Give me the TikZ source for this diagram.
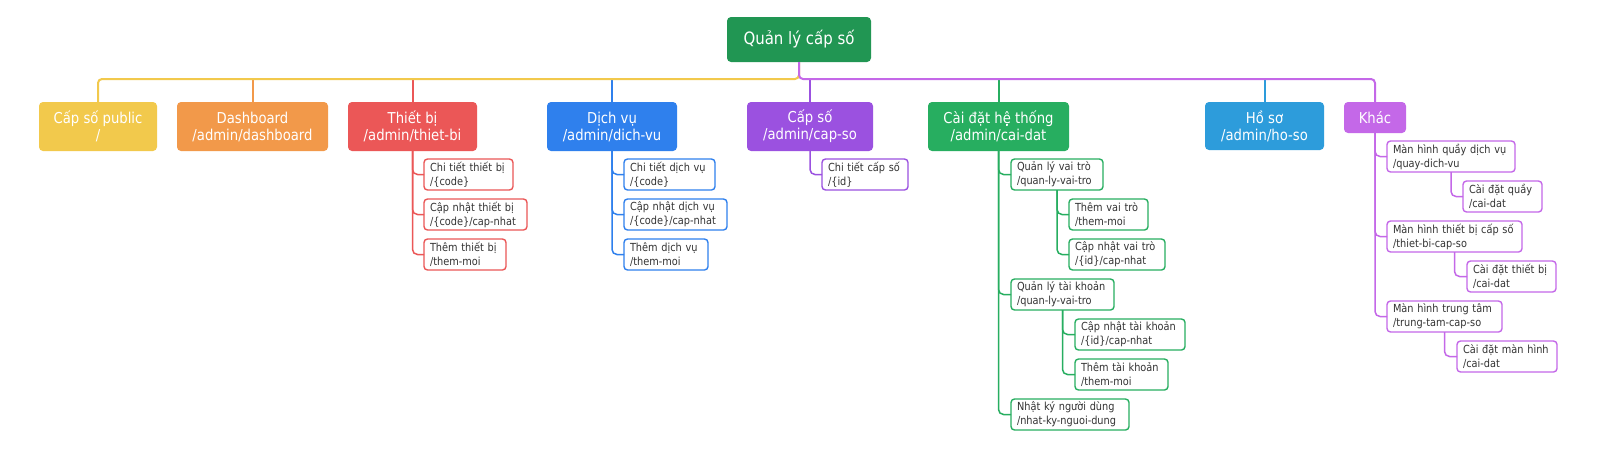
\documentclass[tikz,border=0pt]{standalone}
\usepackage{fontspec}
\newfontfamily\tah[FakeStretch=0.88]{DejaVu Sans}
\definecolor{rootc}{HTML}{219653}
\definecolor{pubc}{HTML}{F2C94C}
\definecolor{dashc}{HTML}{F2994A}
\definecolor{tbc}{HTML}{EB5757}
\definecolor{dvc}{HTML}{2F80ED}
\definecolor{csc}{HTML}{9B51E0}
\definecolor{cdc}{HTML}{27AE60}
\definecolor{hsc}{HTML}{2D9CDB}
\definecolor{khacc}{HTML}{C468E8}
\definecolor{txtc}{HTML}{333333}
\tikzset{
  rootbox/.style={fill=rootc, rounded corners=4pt, text=white, font=\tah\fontsize{17}{20}\selectfont,
    minimum width=144pt, minimum height=45pt, inner sep=0pt, outer sep=0pt},
  mainbox/.style={fill=#1, rounded corners=4pt, text=white, font=\tah\fontsize{15}{17}\selectfont,
    align=center, minimum height=49pt, inner sep=0pt, outer sep=0pt},
  childbox/.style n args={2}{draw=#1, line width=1.4pt, fill=white, rounded corners=3.5pt, text=txtc,
    font=\tah\fontsize{11.1}{14}\selectfont, align=left, text width=#2pt, minimum height=31pt,
    inner xsep=6pt, inner ysep=0pt, outer sep=0pt, anchor=west},
  toplink/.style={draw=#1, line width=2pt, rounded corners=4pt},
  link/.style={draw=#1, line width=1.5pt, rounded corners=5pt},
}
\begin{document}
\begin{tikzpicture}[x=1pt,y=-1pt]
\useasboundingbox[fill=white] (0,0) rectangle (1598,469);
\coordinate (hl) at (0,79);

% root and main branches
\node[rootbox] (root) at (799,39.5) {Quản lý cấp số};
\node[mainbox=pubc, minimum width=118pt] (pub) at (98,126.5) {Cấp số public\\/};
\node[mainbox=dashc, minimum width=151pt] (dash) at (252.5,126.5) {Dashboard\\/admin/dashboard};
\node[mainbox=tbc, minimum width=129pt] (tb) at (412.5,126.5) {Thiết bị\\/admin/thiet-bi};
\node[mainbox=dvc, minimum width=130pt] (dv) at (612,126.5) {Dịch vụ\\/admin/dich-vu};
\node[mainbox=csc, minimum width=126pt] (cs) at (810,126.5) {Cấp số\\/admin/cap-so};
\node[mainbox=cdc, minimum width=141pt] (cd) at (998.5,126.5) {Cài đặt hệ thống\\/admin/cai-dat};
\node[mainbox=hsc, minimum width=119pt, minimum height=48pt] (hs) at (1264.5,126) {Hồ sơ\\/admin/ho-so};
\node[mainbox=khacc, minimum width=62pt, minimum height=31pt] (khac) at (1375,117.5) {Khác};

% top connectors
\foreach \b/\c in {dash/dashc, tb/tbc, dv/dvc, cs/csc, cd/cdc, hs/hsc}
  \draw[toplink=\c] (\b.north |- hl) -- (\b.north);
\draw[toplink=pubc] (root.south) -- (root.south |- hl) -- (pub.north |- hl) -- (pub.north);
\draw[toplink=khacc] (root.south) -- (root.south |- hl) -- (khac.north |- hl) -- (khac.north);

% Thiet bi
\node[childbox={tbc}{77}] (tb1) at (424,174.5) {Chi tiết thiết bị\\/\{code\}};
\node[childbox={tbc}{91}] (tb2) at (424,214.5) {Cập nhật thiết bị\\/\{code\}/cap-nhat};
\node[childbox={tbc}{70}] (tb3) at (424,254.5) {Thêm thiết bị\\/them-moi};
% Dich vu
\node[childbox={dvc}{79}] (dv1) at (624,174.5) {Chi tiết dịch vụ\\/\{code\}};
\node[childbox={dvc}{91}] (dv2) at (624,214.5) {Cập nhật dịch vụ\\/\{code\}/cap-nhat};
\node[childbox={dvc}{72}] (dv3) at (624,254.5) {Thêm dịch vụ\\/them-moi};
% Cap so
\node[childbox={csc}{74}] (cs1) at (822,174.5) {Chi tiết cấp số\\/\{id\}};
% Cai dat
\node[childbox={cdc}{80}] (cd1) at (1011,174.5) {Quản lý vai trò\\/quan-ly-vai-tro};
\node[childbox={cdc}{67}] (cd11) at (1069,214.5) {Thêm vai trò\\/them-moi};
\node[childbox={cdc}{84}] (cd12) at (1069,254.5) {Cập nhật vai trò\\/\{id\}/cap-nhat};
\node[childbox={cdc}{91}] (cd2) at (1011,294.5) {Quản lý tài khoản\\/quan-ly-vai-tro};
\node[childbox={cdc}{98}] (cd21) at (1075,334.5) {Cập nhật tài khoản\\/\{id\}/cap-nhat};
\node[childbox={cdc}{81}] (cd22) at (1075,374.5) {Thêm tài khoản\\/them-moi};
\node[childbox={cdc}{106}] (cd3) at (1011,414.5) {Nhật ký người dùng\\/nhat-ky-nguoi-dung};
% Khac
\node[childbox={khacc}{116}] (k1) at (1387,156.5) {Màn hình quầy dịch vụ\\/quay-dich-vu};
\node[childbox={khacc}{67}] (k11) at (1463,196.5) {Cài đặt quầy\\/cai-dat};
\node[childbox={khacc}{123}] (k2) at (1387,236.5) {Màn hình thiết bị cấp số\\/thiet-bi-cap-so};
\node[childbox={khacc}{77}] (k21) at (1467,276.5) {Cài đặt thiết bị\\/cai-dat};
\node[childbox={khacc}{103}] (k3) at (1387,316.5) {Màn hình trung tâm\\/trung-tam-cap-so};
\node[childbox={khacc}{88}] (k31) at (1457,356.5) {Cài đặt màn hình\\/cai-dat};

% child connectors
\foreach \p/\k/\c in {tb/tb1/tbc, tb/tb2/tbc, tb/tb3/tbc,
    dv/dv1/dvc, dv/dv2/dvc, dv/dv3/dvc, cs/cs1/csc,
    cd/cd1/cdc, cd/cd2/cdc, cd/cd3/cdc, cd1/cd11/cdc, cd1/cd12/cdc, cd2/cd21/cdc, cd2/cd22/cdc,
    khac/k1/khacc, khac/k2/khacc, khac/k3/khacc, k1/k11/khacc, k2/k21/khacc, k3/k31/khacc}
  \draw[link=\c] (\p.south) |- (\k.west);
\end{tikzpicture}
\end{document}
